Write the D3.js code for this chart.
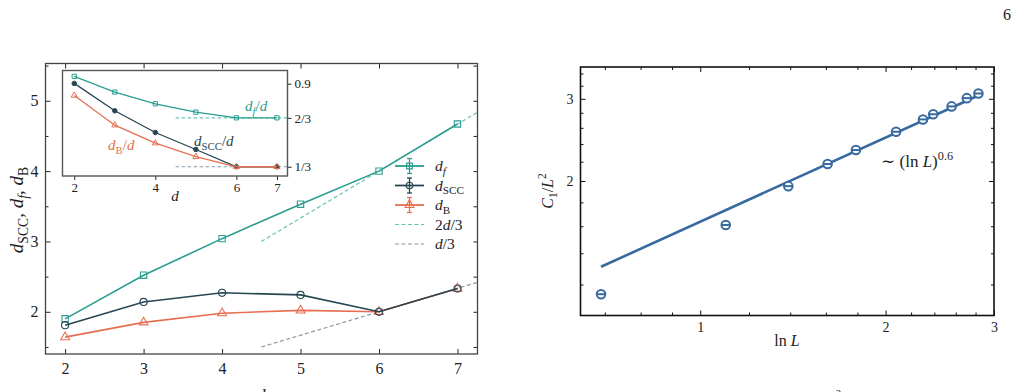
<!DOCTYPE html>
<html>
<head>
<meta charset="utf-8">
<script src="https://cdn.jsdelivr.net/npm/d3@7"></script>
<style>
  body { margin: 0; background: #fff; }
  svg text { font-family: "Liberation Serif", "DejaVu Serif", serif; }
</style>
</head>
<body>
<div id="chart-area"></div>
<script>
// ---- data ----
var dims = [2, 3, 4, 5, 6, 7];
var dF = [1.90, 2.52, 3.04, 3.53, 4.00, 4.67];
var dSCC = [1.81, 2.14, 2.27, 2.24, 2.00, 2.33];
var dB = [1.64, 1.85, 1.98, 2.02, 2.00, 2.33];

// inset: ratios over d
var dFr = [0.95, 0.843, 0.763, 0.706, 0.667, 0.667];
var dSCCr = [0.902, 0.715, 0.567, 0.451, 0.333, 0.333];
var dBr = [0.82, 0.617, 0.494, 0.402, 0.333, 0.333];

// dashed guides
var guideX = [4.5, 7.5];
var guide2d3 = [3.0, 5.0];
var guided3 = [1.5, 2.5];
var insetGuideX = [4.5, 7.4];
var insetGuide23 = [0.667, 0.667];
var insetGuide13 = [0.333, 0.333];

// right panel
var lnL = [0.69, 1.10, 1.39, 1.61, 1.79, 2.08, 2.30, 2.39, 2.56, 2.71, 2.83];
var c1 = [1.144, 1.61, 1.95, 2.175, 2.33, 2.55, 2.71, 2.78, 2.89, 3.01, 3.08];
var fitX = [0.69, 2.83];
var fitY = [1.31, 3.05];

// ticks
var mainXTicks = [2, 3, 4, 5, 6, 7];
var mainYTicks = [2, 3, 4, 5];
var mainYMinor = [1.5, 2.5, 3.5, 4.5, 5.5];
var insetXTicks = [2, 4, 6, 7];
var insetYTicks = [0.9, 0.667, 0.333];
var insetYLabels = ["0.9", "2/3", "1/3"];
var rXTicks = [1, 2, 3];
var rXMinor = [0.7, 0.8, 0.9, 1.2, 1.4, 1.6, 1.8, 2.2, 2.4, 2.6, 2.8];
var rYTicks = [2, 3];
var rYMinor = [1.2, 1.4, 1.6, 1.8, 2.2, 2.4, 2.6, 2.8, 3.2, 3.4];

var cTeal = "#2a9d8f", cDark = "#264653", cOrange = "#e76f51";
var cTealLight = "#6cc3b8", cGray = "#8a9aa6", cBlue = "#386aa0";
var serif = "'Liberation Serif', 'DejaVu Serif', serif";

var svg = d3.select('#chart-area').append('svg')
    .attr('width', 1019)
    .attr('height', 392);

// little helper for latex-ish text
function tex(sel, parts, fs) {
    var shift = 0;
    sel.style("font-family", serif);
    parts.forEach(function(p) {
        var kind = p[1] || "r";
        var target = 0, size = fs;
        if (kind == "sub" || kind == "subi") { target = 0.25 * fs; size = 0.72 * fs; }
        if (kind == "sup") { target = -0.42 * fs; size = 0.72 * fs; }
        var t = sel.append("tspan").text(p[0])
            .attr("dy", target - shift)
            .attr("font-size", size);
        if (kind == "i" || kind == "subi") t.attr("font-style", "italic");
        shift = target;
    });
    return sel;
}

function zip(xs, ys) {
    return xs.map(function(x, i) { return [x, ys[i]]; });
}

// ================= left panel =================
var M = {left: 45.5, top: 63.5, right: 477.5, bottom: 354};
var x = d3.scaleLinear().domain([1.75, 7.255]).range([M.left, M.right]);
var y = d3.scaleLinear().domain([1.40, 5.53]).range([M.bottom, M.top]);

svg.append("clipPath").attr("id", "mainclip")
    .append("rect")
    .attr("x", M.left).attr("y", M.top)
    .attr("width", M.right - M.left).attr("height", M.bottom - M.top);

var gMain = svg.append("g");

// ticks (inward)
gMain.append("g")
    .attr("transform", "translate(0," + M.bottom + ")")
    .call(d3.axisBottom(x).tickValues(mainXTicks).tickSize(-5).tickSizeOuter(0).tickPadding(9).tickFormat(d3.format("d")));
gMain.append("g")
    .attr("transform", "translate(0," + M.top + ")")
    .call(d3.axisTop(x).tickValues(mainXTicks).tickSize(-5).tickSizeOuter(0).tickFormat(""));
gMain.append("g")
    .attr("transform", "translate(" + M.left + ",0)")
    .call(d3.axisLeft(y).tickValues(mainYTicks).tickSize(-5).tickSizeOuter(0).tickPadding(7).tickFormat(d3.format("d")));
gMain.append("g")
    .attr("transform", "translate(" + M.left + ",0)")
    .call(d3.axisLeft(y).tickValues(mainYMinor).tickSize(-3).tickSizeOuter(0).tickFormat(""));
gMain.append("g")
    .attr("transform", "translate(" + M.right + ",0)")
    .call(d3.axisRight(y).tickValues(mainYTicks.concat(mainYMinor)).tickSize(-4).tickSizeOuter(0).tickFormat(""));
gMain.selectAll(".domain").remove();
gMain.selectAll(".tick line").attr("stroke", "#222");
gMain.selectAll(".tick text").attr("font-size", "16px").attr("fill", "#222")
    .style("font-family", serif);

// dashed guides
var line = d3.line().x(function(d) { return x(d[0]); }).y(function(d) { return y(d[1]); });
gMain.append("path")
    .attr("clip-path", "url(#mainclip)")
    .attr("d", line(zip(guideX, guide2d3)))
    .attr("fill", "none").attr("stroke", cTealLight).attr("stroke-width", 1.2)
    .style("stroke-dasharray", "4,2.5");
gMain.append("path")
    .attr("clip-path", "url(#mainclip)")
    .attr("d", line(zip(guideX, guided3)))
    .attr("fill", "none").attr("stroke", cGray).attr("stroke-width", 1.2)
    .style("stroke-dasharray", "4,2.5");

var series = [
    {vals: dB, color: cOrange, sym: d3.symbolTriangle, size: 34},
    {vals: dF, color: cTeal, sym: d3.symbolSquare, size: 40},
    {vals: dSCC, color: cDark, sym: d3.symbolCircle, size: 40}
];
series.forEach(function(s) {
    var pts = zip(dims, s.vals);
    gMain.append("path")
        .attr("d", line(pts))
        .attr("fill", "none").attr("stroke", s.color).attr("stroke-width", 1.6);
    gMain.selectAll(null)
        .data(pts)
        .enter()
        .append("path")
        .attr("d", d3.symbol().type(s.sym).size(s.size))
        .attr("transform", function(d) { return "translate(" + x(d[0]) + "," + y(d[1]) + ")"; })
        .attr("fill", "none").attr("stroke", s.color).attr("stroke-width", 1.1);
});

// frame
gMain.append("rect")
    .attr("x", M.left).attr("y", M.top)
    .attr("width", M.right - M.left).attr("height", M.bottom - M.top)
    .attr("fill", "none").attr("stroke", "#444").attr("stroke-width", 1.3);

// axis labels
tex(svg.append("text")
    .attr("x", 261).attr("y", 402)
    .attr("text-anchor", "middle").attr("fill", "#222"),
    [["d", "i"]], 18);
tex(svg.append("text")
    .attr("transform", "translate(23,210) rotate(-90)")
    .attr("text-anchor", "middle").attr("fill", "#222"),
    [["d", "i"], ["SCC", "sub"], [", ", "r"], ["d", "i"], ["f", "subi"], [", ", "r"], ["d", "i"], ["B", "sub"]], 19);

// legend
var legend = [
    {label: [["d", "i"], ["f", "subi"]], color: cTeal, sym: d3.symbolSquare},
    {label: [["d", "i"], ["SCC", "sub"]], color: cDark, sym: d3.symbolCircle},
    {label: [["d", "i"], ["B", "sub"]], color: cOrange, sym: d3.symbolTriangle},
    {label: [["2", "r"], ["d", "i"], ["/3", "r"]], color: cTealLight, dash: true},
    {label: [["d", "i"], ["/3", "r"]], color: cGray, dash: true}
];
var legRowY = [166, 185.5, 205, 224.5, 244];
legend.forEach(function(l, i) {
    var g = svg.append("g").attr("transform", "translate(395," + legRowY[i] + ")");
    if (l.dash) {
        g.append("line").attr("x1", 0).attr("x2", 29).attr("y1", 0).attr("y2", 0)
            .attr("stroke", l.color).attr("stroke-width", 1.2).style("stroke-dasharray", "4,2.5");
    } else {
        g.append("line").attr("x1", 0).attr("x2", 29).attr("y1", 0).attr("y2", 0)
            .attr("stroke", l.color).attr("stroke-width", 1.8);
        g.append("line").attr("x1", 14.5).attr("x2", 14.5).attr("y1", -7.5).attr("y2", 7.5)
            .attr("stroke", l.color).attr("stroke-width", 1.3);
        [-7.5, 7.5].forEach(function(c) {
            g.append("line").attr("x1", 12).attr("x2", 17).attr("y1", c).attr("y2", c)
                .attr("stroke", l.color).attr("stroke-width", 1.3);
        });
        g.append("path").attr("d", d3.symbol().type(l.sym).size(34))
            .attr("transform", "translate(14.5,0)")
            .attr("fill", "none").attr("stroke", l.color).attr("stroke-width", 1.1);
    }
    tex(g.append("text").attr("x", 40).attr("y", 5).attr("fill", "#222"), l.label, 15.5);
});

// ================= inset =================
var I = {left: 62.5, top: 70.5, right: 287.5, bottom: 176};
var xi = d3.scaleLinear().domain([1.71, 7.26]).range([I.left, I.right]);
var yi = d3.scaleLinear().domain([0.27, 0.99]).range([I.bottom, I.top]);

svg.append("clipPath").attr("id", "insetclip")
    .append("rect")
    .attr("x", I.left).attr("y", I.top)
    .attr("width", I.right - I.left).attr("height", I.bottom - I.top);

var gIn = svg.append("g");
gIn.append("rect")
    .attr("x", I.left).attr("y", I.top)
    .attr("width", I.right - I.left).attr("height", I.bottom - I.top)
    .attr("fill", "#fff");

gIn.append("g")
    .attr("transform", "translate(0," + I.bottom + ")")
    .call(d3.axisBottom(xi).tickValues(insetXTicks).tickSize(4).tickSizeOuter(0).tickPadding(3).tickFormat(d3.format("d")));
gIn.append("g")
    .attr("transform", "translate(" + I.right + ",0)")
    .call(d3.axisRight(yi).tickValues(insetYTicks).tickSize(4).tickSizeOuter(0).tickPadding(3)
        .tickFormat(function(d, i) { return insetYLabels[i]; }));
gIn.selectAll(".domain").remove();
gIn.selectAll(".tick line").attr("stroke", "#222");
gIn.selectAll(".tick text").attr("font-size", "13px").attr("fill", "#222")
    .style("font-family", serif);

var linei = d3.line().x(function(d) { return xi(d[0]); }).y(function(d) { return yi(d[1]); });
gIn.append("path")
    .attr("clip-path", "url(#insetclip)")
    .attr("d", linei(zip(insetGuideX, insetGuide23)))
    .attr("fill", "none").attr("stroke", cTealLight).attr("stroke-width", 1.1)
    .style("stroke-dasharray", "3.5,2.5");
gIn.append("path")
    .attr("clip-path", "url(#insetclip)")
    .attr("d", linei(zip(insetGuideX, insetGuide13)))
    .attr("fill", "none").attr("stroke", cGray).attr("stroke-width", 1.1)
    .style("stroke-dasharray", "3.5,2.5");

var insetSeries = [
    {vals: dFr, color: cTeal, sym: d3.symbolSquare, size: 18, fill: "none"},
    {vals: dSCCr, color: cDark, sym: d3.symbolCircle, size: 16, fill: cDark},
    {vals: dBr, color: cOrange, sym: d3.symbolTriangle, size: 16, fill: "none"}
];
insetSeries.forEach(function(s) {
    var pts = zip(dims, s.vals);
    gIn.append("path")
        .attr("d", linei(pts))
        .attr("fill", "none").attr("stroke", s.color).attr("stroke-width", 1.3);
    gIn.selectAll(null)
        .data(pts)
        .enter()
        .append("path")
        .attr("d", d3.symbol().type(s.sym).size(s.size))
        .attr("transform", function(d) { return "translate(" + xi(d[0]) + "," + yi(d[1]) + ")"; })
        .attr("fill", s.fill).attr("stroke", s.color).attr("stroke-width", 1);
});

gIn.append("rect")
    .attr("x", I.left).attr("y", I.top)
    .attr("width", I.right - I.left).attr("height", I.bottom - I.top)
    .attr("fill", "none").attr("stroke", "#555").attr("stroke-width", 1.4);

tex(gIn.append("text").attr("x", 175).attr("y", 201).attr("text-anchor", "middle").attr("fill", "#222"),
    [["d", "i"]], 15);
tex(gIn.append("text").attr("x", 245).attr("y", 111).attr("fill", cTeal),
    [["d", "i"], ["f", "subi"], ["/", "r"], ["d", "i"]], 15);
tex(gIn.append("text").attr("x", 194).attr("y", 146).attr("fill", cDark),
    [["d", "i"], ["SCC", "sub"], ["/", "r"], ["d", "i"]], 15);
tex(gIn.append("text").attr("x", 108).attr("y", 150).attr("fill", cOrange),
    [["d", "i"], ["B", "sub"], ["/", "r"], ["d", "i"]], 15);

// ================= right panel =================
var R = {left: 580.5, top: 67, right: 994, bottom: 315.5};
var xr = d3.scaleLog().domain([0.639, 3.0]).range([R.left, R.right]);
var yr = d3.scaleLog().domain([1.03, 3.51]).range([R.bottom, R.top]);

var gR = svg.append("g");
gR.append("g")
    .attr("transform", "translate(0," + R.bottom + ")")
    .call(d3.axisBottom(xr).tickValues(rXTicks).tickSize(-5).tickSizeOuter(0).tickPadding(7).tickFormat(d3.format("d")));
gR.append("g")
    .attr("transform", "translate(0," + R.bottom + ")")
    .call(d3.axisBottom(xr).tickValues(rXMinor).tickSize(-3).tickSizeOuter(0).tickFormat(""));
gR.append("g")
    .attr("transform", "translate(0," + R.top + ")")
    .call(d3.axisTop(xr).tickValues(rXTicks).tickSize(-5).tickSizeOuter(0).tickFormat(""));
gR.append("g")
    .attr("transform", "translate(0," + R.top + ")")
    .call(d3.axisTop(xr).tickValues(rXMinor).tickSize(-3).tickSizeOuter(0).tickFormat(""));
gR.append("g")
    .attr("transform", "translate(" + R.left + ",0)")
    .call(d3.axisLeft(yr).tickValues(rYTicks).tickSize(-5).tickSizeOuter(0).tickPadding(7).tickFormat(d3.format("d")));
gR.append("g")
    .attr("transform", "translate(" + R.left + ",0)")
    .call(d3.axisLeft(yr).tickValues(rYMinor).tickSize(-3).tickSizeOuter(0).tickFormat(""));
gR.append("g")
    .attr("transform", "translate(" + R.right + ",0)")
    .call(d3.axisRight(yr).tickValues(rYTicks).tickSize(-5).tickSizeOuter(0).tickFormat(""));
gR.append("g")
    .attr("transform", "translate(" + R.right + ",0)")
    .call(d3.axisRight(yr).tickValues(rYMinor).tickSize(-3).tickSizeOuter(0).tickFormat(""));
gR.selectAll(".domain").remove();
gR.selectAll(".tick line").attr("stroke", "#111");
gR.selectAll(".tick text").attr("font-size", "14px").attr("fill", "#222")
    .style("font-family", serif);

var liner = d3.line().x(function(d) { return xr(d[0]); }).y(function(d) { return yr(d[1]); });
gR.append("path")
    .attr("d", liner(zip(fitX, fitY)))
    .attr("fill", "none").attr("stroke", cBlue).attr("stroke-width", 2.6);

var pts = gR.selectAll(".pt")
    .data(zip(lnL, c1))
    .enter()
    .append("g")
    .attr("class", "pt")
    .attr("transform", function(d) { return "translate(" + xr(d[0]) + "," + yr(d[1]) + ")"; });
pts.append("circle").attr("r", 4.3)
    .attr("fill", "#fff").attr("stroke", cBlue).attr("stroke-width", 2);
pts.append("line").attr("x1", -4.3).attr("x2", 4.3).attr("y1", 0).attr("y2", 0)
    .attr("stroke", cBlue).attr("stroke-width", 2);

gR.append("rect")
    .attr("x", R.left).attr("y", R.top)
    .attr("width", R.right - R.left).attr("height", R.bottom - R.top)
    .attr("fill", "none").attr("stroke", "#111").attr("stroke-width", 1.6);

tex(svg.append("text").attr("x", 787).attr("y", 346).attr("text-anchor", "middle").attr("fill", "#222"),
    [["ln ", "r"], ["L", "i"]], 16);
tex(svg.append("text")
    .attr("transform", "translate(553,191) rotate(-90)")
    .attr("text-anchor", "middle").attr("fill", "#222"),
    [["C", "i"], ["1", "sub"], ["/", "r"], ["L", "i"], ["2", "sup"]], 16);
tex(svg.append("text").attr("x", 881).attr("y", 167).attr("fill", "#222"),
    [["∼ (ln ", "r"], ["L", "i"], [")", "r"], ["0.6", "sup"]], 17);

// page number and cut-off caption bits
svg.append("text").attr("x", 1003).attr("y", 20).attr("font-size", "16px").attr("fill", "#222").text("6");
svg.append("text").attr("x", 836).attr("y", 397).attr("font-size", "10px").attr("fill", "#222").text("2");
</script>
</body>
</html>
